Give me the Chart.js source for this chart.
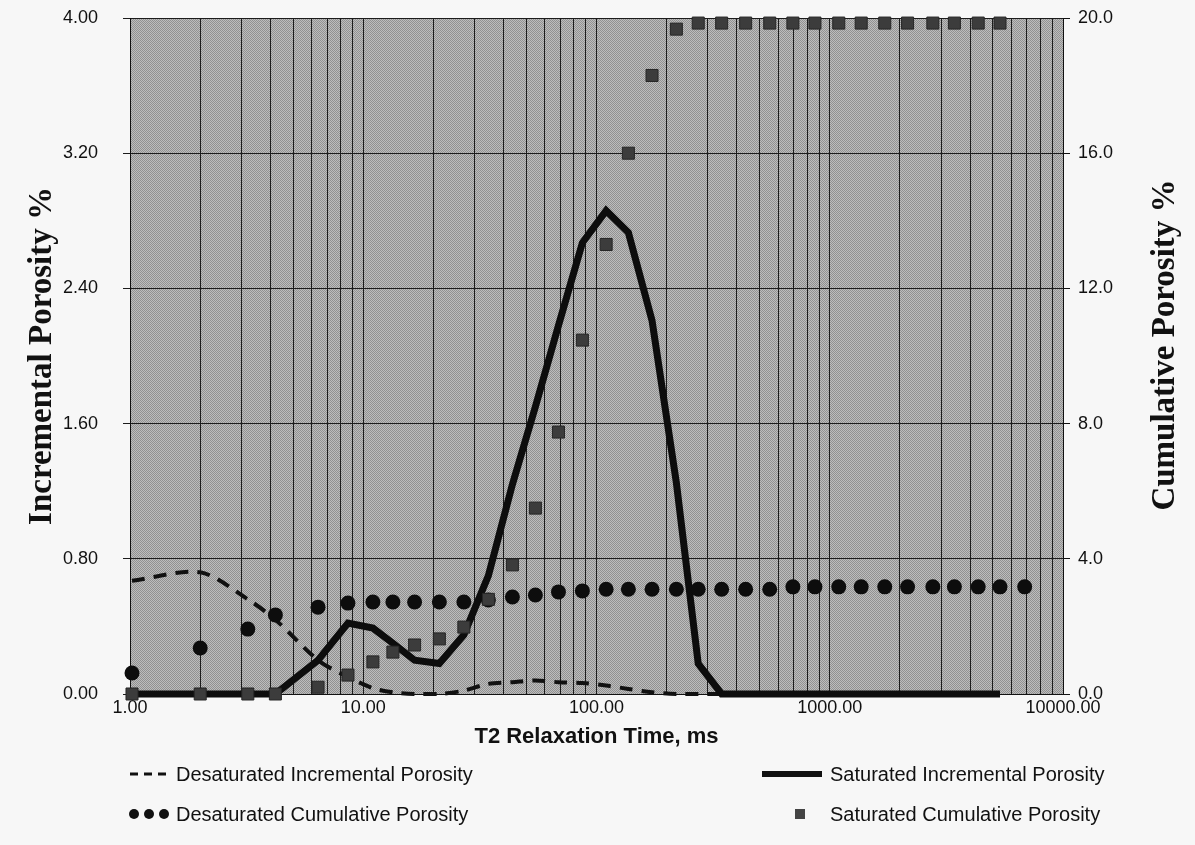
<!DOCTYPE html>
<html>
<head>
<meta charset="utf-8">
<title>T2 Relaxation Time</title>
<script src="https://cdn.jsdelivr.net/npm/chart.js@4.4.1/dist/chart.umd.min.js"></script>
<style>
    body { margin: 0; background: #f7f7f7; }
    #wrap { position: relative; width: 1195px; height: 845px; overflow: hidden; }
    #chart { position: absolute; left: 0; top: 0; }
    .lg { position: absolute; font: 20px 'Liberation Sans', Arial, sans-serif; color: #111; white-space: nowrap; line-height: 24px; }
    .sym { position: absolute; left: 0; top: 0; }
</style>
</head>
<body>
<div id="wrap">
    <canvas id="chart" width="1195" height="845"></canvas>
    <svg class="sym" width="1195" height="845">
        <line x1="130" y1="774" x2="172" y2="774" stroke="#111" stroke-width="3" stroke-dasharray="8 6"/>
        <circle cx="134" cy="814" r="5" fill="#111"/>
        <circle cx="149" cy="814" r="5" fill="#111"/>
        <circle cx="164" cy="814" r="5" fill="#111"/>
        <rect x="762" y="771" width="60" height="6" fill="#111"/>
        <rect x="795" y="809" width="10" height="10" fill="#444"/>
    </svg>
    <div class="lg" style="left:176px; top:762px;">Desaturated Incremental Porosity</div>
    <div class="lg" style="left:176px; top:802px;">Desaturated Cumulative Porosity</div>
    <div class="lg" style="left:830px; top:762px;">Saturated Incremental Porosity</div>
    <div class="lg" style="left:830px; top:802px;">Saturated Cumulative Porosity</div>
</div>
<script>
// T2 bins (ms)
const t2Times = [1.02, 2.0, 3.2, 4.2, 6.4, 8.6, 11.0, 13.4, 16.6, 21.2, 27.0, 34.4, 43.6, 54.7,
    68.7, 87.0, 110, 137, 173, 220, 273, 344, 436, 553, 695, 864, 1093, 1364, 1721, 2156,
    2767, 3423, 4330, 5370, 6850];

// incremental porosity %, left axis
const desatIncremental = [0.67, 0.72, 0.56, 0.44, 0.20, 0.10, 0.035, 0.01, 0, 0, 0.02, 0.06, 0.07, 0.08,
    0.07, 0.065, 0.05, 0.03, 0.01, 0, 0, 0, 0, 0, 0, 0, 0, 0, 0, 0, 0, 0, 0, 0];
const satIncremental = [0, 0, 0, 0, 0.20, 0.42, 0.39, 0.30, 0.20, 0.18, 0.35, 0.70, 1.24, 1.70,
    2.18, 2.67, 2.86, 2.73, 2.21, 1.25, 0.18, 0, 0, 0, 0, 0, 0, 0, 0, 0, 0, 0, 0, 0];

// cumulative porosity %, right axis
const desatCumulative = [0.62, 1.36, 1.92, 2.34, 2.57, 2.69, 2.72, 2.72, 2.72, 2.72, 2.72, 2.78, 2.87, 2.93,
    3.02, 3.05, 3.10, 3.10, 3.10, 3.10, 3.10, 3.10, 3.10, 3.10, 3.17, 3.17, 3.17, 3.17, 3.17, 3.17,
    3.17, 3.17, 3.17, 3.17, 3.17];
const satCumulative = [0, 0, 0, 0, 0.20, 0.56, 0.95, 1.24, 1.45, 1.63, 1.98, 2.80, 3.82, 5.50,
    7.75, 10.47, 13.30, 16.00, 18.30, 19.67, 19.85, 19.85, 19.85, 19.85, 19.85, 19.85, 19.85, 19.85,
    19.85, 19.85, 19.85, 19.85, 19.85, 19.85];

const xTickValues = [1, 10, 100, 1000, 10000];
const xTickLabels = ['1.00', '10.00', '100.00', '1000.00', '10000.00'];
const leftTickValues = [0, 0.8, 1.6, 2.4, 3.2, 4.0];
const rightTickValues = [0, 4, 8, 12, 16, 20];

const tickFont = { family: "'Liberation Sans', Arial, sans-serif", size: 18 };

function toPoints(values) {
    return values.map((v, i) => ({ x: t2Times[i], y: v }));
}

// halftone-ish grey behind the plot
const plotBackground = {
    id: 'plotBackground',
    beforeDraw(chart) {
        const { ctx, chartArea: a } = chart;
        const tile = document.createElement('canvas');
        tile.width = 2;
        tile.height = 2;
        const t = tile.getContext('2d');
        t.fillStyle = '#919191';
        t.fillRect(0, 0, 2, 2);
        t.fillStyle = '#bdbdbd';
        t.fillRect(1, 0, 1, 1);
        t.fillRect(0, 1, 1, 1);
        ctx.save();
        ctx.fillStyle = ctx.createPattern(tile, 'repeat');
        ctx.fillRect(a.left, a.top, a.right - a.left, a.bottom - a.top);
        ctx.restore();
    }
};

// both vertical titles read bottom to top
const sideTitles = {
    id: 'sideTitles',
    afterDraw(chart) {
        const ctx = chart.ctx;
        ctx.save();
        ctx.fillStyle = '#111';
        ctx.font = "bold 33px 'Liberation Serif', 'Times New Roman', serif";
        ctx.textAlign = 'center';
        ctx.textBaseline = 'middle';
        [[42, 356, 'Incremental Porosity %'], [1165, 345, 'Cumulative Porosity %']].forEach(([x, y, text]) => {
            ctx.save();
            ctx.translate(x, y);
            ctx.rotate(-Math.PI / 2);
            ctx.fillText(text, 0, 0);
            ctx.restore();
        });
        ctx.restore();
    }
};

// keep the label padding from pushing the plot top down
function fixVertical(width) {
    return (scale) => {
        scale.width = width;
        scale.paddingTop = 0;
        scale.paddingBottom = 0;
    };
}

new Chart(document.getElementById('chart'), {
    type: 'line',
    data: {
        datasets: [
            {
                label: 'Saturated Cumulative Porosity',
                data: toPoints(satCumulative),
                yAxisID: 'y2',
                showLine: false,
                pointStyle: 'rect',
                pointRadius: 8.5,
                pointBackgroundColor: '#3c3c3c',
                pointBorderColor: '#262626',
                pointBorderWidth: 1,
                clip: false,
                order: 0
            },
            {
                label: 'Desaturated Cumulative Porosity',
                data: toPoints(desatCumulative),
                yAxisID: 'y2',
                showLine: false,
                pointStyle: 'circle',
                pointRadius: 7.5,
                pointBackgroundColor: '#0d0d0d',
                pointBorderColor: '#0d0d0d',
                pointBorderWidth: 0,
                clip: false,
                order: 1
            },
            {
                label: 'Saturated Incremental Porosity',
                data: toPoints(satIncremental),
                yAxisID: 'y',
                borderColor: '#0d0d0d',
                borderWidth: 7,
                borderJoinStyle: 'miter',
                pointRadius: 0,
                tension: 0,
                clip: false,
                order: 2
            },
            {
                label: 'Desaturated Incremental Porosity',
                data: toPoints(desatIncremental),
                yAxisID: 'y',
                borderColor: '#111',
                borderWidth: 4,
                borderDash: [13, 9],
                pointRadius: 0,
                tension: 0.3,
                clip: false,
                order: 3
            }
        ]
    },
    options: {
        responsive: false,
        animation: false,
        layout: { padding: { top: 18, left: 0, right: 0, bottom: 0 } },
        plugins: {
            legend: { display: false },
            tooltip: { enabled: false }
        },
        scales: {
            x: {
                type: 'logarithmic',
                min: 1,
                max: 10000,
                afterBuildTicks(scale) {
                    const ticks = [];
                    for (let p = 0; p < 4; p++) {
                        for (let m = 1; m < 10; m++) {
                            ticks.push({ value: m * Math.pow(10, p) });
                        }
                    }
                    ticks.push({ value: 10000 });
                    scale.ticks = ticks;
                },
                afterFit(scale) { scale.height = 151; },
                ticks: {
                    autoSkip: false,
                    maxRotation: 0,
                    padding: 3,
                    color: '#111',
                    font: tickFont,
                    callback: (v) => {
                        const i = xTickValues.indexOf(v);
                        return i >= 0 ? xTickLabels[i] : '';
                    }
                },
                grid: { color: '#1c1c1c', lineWidth: 1, drawTicks: false },
                border: { color: '#111' },
                title: {
                    display: true,
                    text: 'T2 Relaxation Time, ms',
                    color: '#111',
                    font: { family: "'Liberation Sans', Arial, sans-serif", size: 22, weight: 'bold' },
                    padding: { top: 0, bottom: 95 }
                }
            },
            y: {
                position: 'left',
                min: 0,
                max: 4,
                afterBuildTicks(scale) { scale.ticks = leftTickValues.map(v => ({ value: v })); },
                afterFit: fixVertical(130),
                ticks: {
                    padding: 25,
                    color: '#111',
                    font: tickFont,
                    callback: (v) => v.toFixed(2)
                },
                grid: { color: '#1c1c1c', lineWidth: 1, tickLength: 7 },
                border: { color: '#111' }
            },
            y2: {
                position: 'right',
                min: 0,
                max: 20,
                afterBuildTicks(scale) { scale.ticks = rightTickValues.map(v => ({ value: v })); },
                afterFit: fixVertical(132),
                ticks: {
                    padding: 8,
                    color: '#111',
                    font: tickFont,
                    callback: (v) => v.toFixed(1)
                },
                grid: { drawOnChartArea: false, color: '#111', tickLength: 7 },
                border: { color: '#111' }
            }
        }
    },
    plugins: [plotBackground, sideTitles]
});
</script>
</body>
</html>
